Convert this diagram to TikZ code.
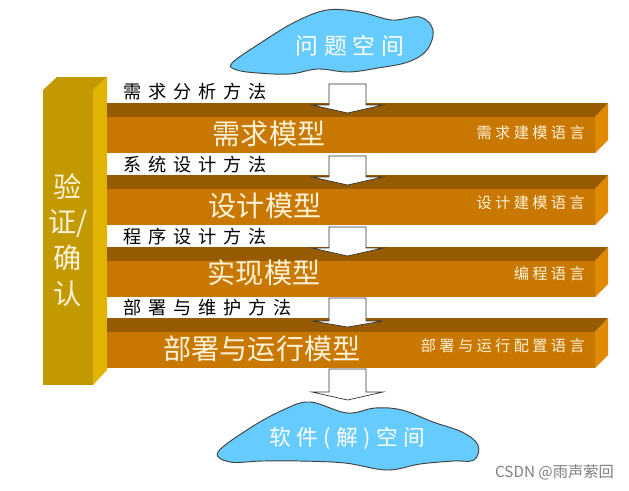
\documentclass[tikz,border=0pt]{standalone}
\usepackage{fontspec}
\usepackage{xcolor}
\setmainfont{Noto Sans CJK SC}
\newfontfamily\cjkwide[LetterSpace=38]{Noto Sans CJK SC}
\newfontfamily\cjklang[LetterSpace=22]{Noto Sans CJK SC}
\newfontfamily\cjkcloud[LetterSpace=25]{Noto Sans CJK SC}
\definecolor{barfront}{HTML}{C87800}
\definecolor{bartop}{HTML}{965A00}
\definecolor{barside}{HTML}{E08800}
\definecolor{vfront}{HTML}{C29A00}
\definecolor{vside}{HTML}{E0B400}
\definecolor{sky}{HTML}{66CCFF}
\definecolor{paletxt}{HTML}{FFF2D8}

\begin{document}
\begin{tikzpicture}[x=0.03cm,y=-0.03cm,
  cloudshape/.style={fill=sky,draw=black!75,line width=0.8pt},
  blockarrow/.style={fill=white,draw=black!80,line width=0.6pt,line join=miter},
  method/.style={anchor=west,inner sep=0pt,font=\cjkwide\fontsize{15.5}{17}\selectfont},
  model/.style={inner sep=0pt,text=paletxt,font=\fontsize{24}{26}\selectfont},
  lang/.style={anchor=east,inner sep=0pt,text=paletxt,font=\cjklang\fontsize{13}{15}\selectfont}]
\useasboundingbox (0,0) rectangle (629,490);
\fill[white] (0,0) rectangle (629,490);

\draw[cloudshape] plot[smooth cycle,tension=0.6] coordinates {(232,63) (262,42) (295,22) (327,10) (360,12) (392,20) (420,17) (433,30) (427,50) (408,62) (378,68) (348,72) (318,69) (290,74) (258,73) (237,70)};
\node[text=white,font=\cjkcloud\fontsize{19.5}{21}\selectfont] (space1) at (350,46) {问题空间};

\draw[cloudshape] plot[smooth cycle,tension=0.6] coordinates {(218,452) (250,428) (283,410) (310,402) (347,413) (375,408) (402,410) (433,422) (462,432) (478,445) (474,460) (453,461) (420,464) (387,470) (345,463) (300,461) (262,461) (230,462)};
\node[text=white,font=\cjkcloud\fontsize{18.5}{20}\selectfont] (space2) at (347,438) {软件(解)空间};

\fill[vfront] (43,90) -- (57,77) -- (107,77) -- (93,90) -- cycle;
\fill[vfront] (43,90) rectangle (93,385);
\fill[vside] (93,90) -- (107,77) -- (107,370) -- (93,385) -- cycle;
\node[text=paletxt,align=center,font=\fontsize{24}{30.5}\selectfont] (verify) at (68,240) {验\\证/\\确\\认};

\foreach \y in {103,175,247,318} {
  \fill[bartop] (107,\y) -- (608,\y) -- (595,\y+14) -- (107,\y+14) -- cycle;
  \fill[barfront] (107,\y+14) rectangle (595,\y+50);
  \fill[barside] (595,\y+14) -- (608,\y) -- (608,\y+37) -- (595,\y+50) -- cycle;
}

\foreach \s/\b/\t in {84/105/113,156/177/185,227/248/256,298/321/327,369/392/400} {
  \draw[blockarrow] (329,\s) -- (366,\s) -- (366,\b) -- (383,\b) -- (347.5,\t) -- (312,\b) -- (329,\b) -- cycle;
}

\node[method] (method1) at (123,92) {需求分析方法};
\node[method] (method2) at (123,165) {系统设计方法};
\node[method] (method3) at (123,237) {程序设计方法};
\node[method] (method4) at (123,308) {部署与维护方法};

\node[model] (model1) at (269,134) {需求模型};
\node[model] (model2) at (265,206) {设计模型};
\node[model] (model3) at (264,273) {实现模型};
\node[model] (model4) at (262,349) {部署与运行模型};

\node[lang] (lang1) at (585,133) {需求建模语言};
\node[lang] (lang2) at (585,203) {设计建模语言};
\node[lang] (lang3) at (585,274) {编程语言};
\node[lang] (lang4) at (585,346) {部署与运行配置语言};

\node[anchor=east,inner sep=0pt,text=black!50,font=\fontsize{13}{15}\selectfont] (mark) at (614,472) {CSDN @雨声萦回};
\end{tikzpicture}
\end{document}
